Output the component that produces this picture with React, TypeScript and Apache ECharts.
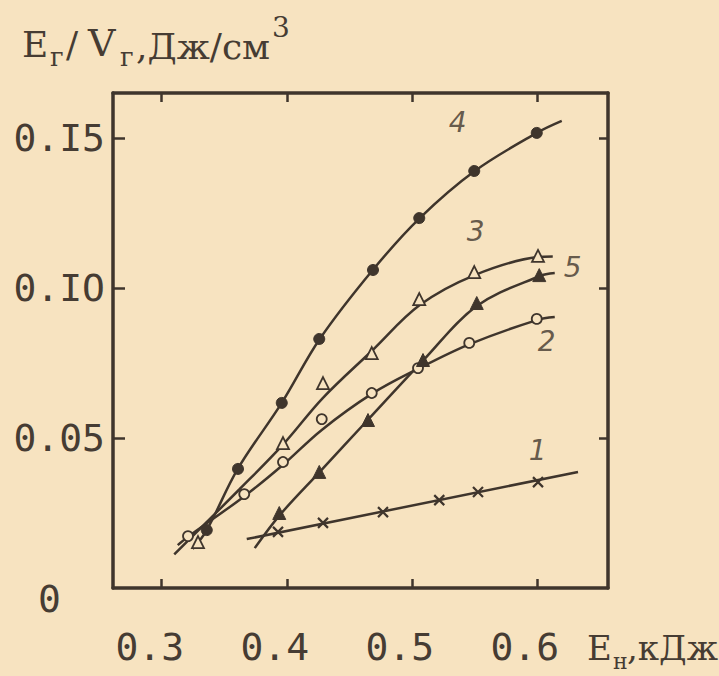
import React, { useEffect, useRef } from 'react';
import * as echarts from 'echarts';

// ---- axis ticks / labels ----
const xTickValues = [0.3, 0.4, 0.5, 0.6];
const xTickLabels = ['0.3', '0.4', '0.5', '0.6'];
const yTickValues = [0, 0.05, 0.1, 0.15];
const yTickLabels = ['0', '0.05', '0.IO', '0.I5'];

// ---- curve 1 (crosses) ----
const curve1Points = [[0.393, 0.0187], [0.429, 0.0217], [0.477, 0.0253], [0.522, 0.0293], [0.553, 0.032], [0.601, 0.0353]];
const curve1Fit = [[0.368, 0.0163], [0.633, 0.0387]];

// ---- curve 2 (open circles) ----
const curve2Points = [[0.321, 0.0173], [0.366, 0.0313], [0.397, 0.042], [0.428, 0.0563], [0.468, 0.065], [0.505, 0.0733], [0.546, 0.0817], [0.600, 0.0897]];
const curve2Fit = [[0.3128, 0.0143], [0.3208, 0.017], [0.3664, 0.0307], [0.3968, 0.041], [0.428, 0.0527], [0.468, 0.0647], [0.5048, 0.073], [0.5464, 0.0813], [0.600, 0.0893], [0.6144, 0.0903]];

// ---- curve 3 (open triangles) ----
const curve3Points = [[0.329, 0.0153], [0.397, 0.0483], [0.429, 0.0683], [0.468, 0.0783], [0.506, 0.0963], [0.550, 0.1053], [0.601, 0.1107]];
const curve3Fit = [[0.310, 0.0112], [0.3624, 0.033], [0.3968, 0.0477], [0.4288, 0.0633], [0.468, 0.079], [0.5064, 0.0943], [0.5504, 0.1043], [0.6008, 0.1103], [0.6128, 0.1105]];

// ---- curve 4 (filled circles) ----
const curve4Points = [[0.336, 0.0193], [0.361, 0.0397], [0.396, 0.0617], [0.426, 0.083], [0.469, 0.106], [0.506, 0.1233], [0.550, 0.139], [0.600, 0.1517]];
const curve4Fit = [[0.3248, 0.013], [0.336, 0.0193], [0.3608, 0.0397], [0.396, 0.0617], [0.4264, 0.083], [0.4688, 0.106], [0.5064, 0.1233], [0.5504, 0.139], [0.600, 0.1517], [0.62, 0.1557]];

// ---- curve 5 (filled triangles) ----
const curve5Points = [[0.394, 0.025], [0.426, 0.0387], [0.465, 0.056], [0.509, 0.076], [0.552, 0.095], [0.602, 0.1043]];
const curve5Fit = [[0.3744, 0.0133], [0.3944, 0.0243], [0.4264, 0.0387], [0.4648, 0.056], [0.5088, 0.0757], [0.552, 0.094], [0.6024, 0.104], [0.6144, 0.105]];

// ---- curve number labels (data coords) ----
const curveLabelNames = ['4', '3', '5', '2', '1'];
const curveLabelPositions = [[0.5368, 0.1553], [0.5512, 0.119], [0.6288, 0.1067], [0.608, 0.0823], [0.6008, 0.046]];

const PAPER = '#f7e3c0';
const INK = '#3f352c';
const TEXT = '#463c33';
const MONO = '"DejaVu Sans Mono", monospace';
const SERIF = '"DejaVu Serif", serif';

function lookup(values: number[], labels: string[], v: number) {
  for (let i = 0; i < values.length; i++) if (Math.abs(values[i] - v) < 1e-6) return labels[i];
  return '';
}

export default function App() {
  const ref = useRef<HTMLDivElement>(null);
  useEffect(() => {
    if (!ref.current) return;
    const chart = echarts.init(ref.current, undefined, { renderer: 'svg' });
    const lineS = (data: number[][]) => ({
      type: 'line', data, smooth: 0.35, showSymbol: false, symbol: 'none',
      lineStyle: { color: INK, width: 2.5 }, z: 2, silent: true,
    });
    const scat = (data: number[][], symbol: string, size: number, fill: string, bw: number) => ({
      type: 'scatter', data, symbol, symbolSize: size,
      itemStyle: { color: fill, borderColor: INK, borderWidth: bw, opacity: 1 }, z: 3, silent: true,
    });
    const frameAxis = {
      type: 'value', min: 0.261, max: 0.657,
      axisLine: { show: true, onZero: false, lineStyle: { color: INK, width: 3.5 } },
      splitLine: { show: false },
    };
    const txt = (x: number, y: number, text: string, size: number) => ({
      type: 'text', x, y, style: { text, font: size + 'px ' + SERIF, fill: TEXT, verticalAlign: 'middle' },
    });
    chart.setOption({
      animation: false,
      backgroundColor: PAPER,
      grid: { left: 113, top: 93, width: 495, height: 495, containLabel: false },
      xAxis: [
        {
          ...frameAxis, position: 'bottom',
          axisTick: { show: true, inside: true, length: 9, customValues: xTickValues, lineStyle: { color: INK, width: 2.5 } },
          axisLabel: {
            show: true, customValues: xTickValues, margin: 40,
            formatter: (v: number) => lookup(xTickValues, xTickLabels, v),
            color: TEXT, fontFamily: MONO, fontSize: 38, padding: [0, 24, 0, 0],
          },
        },
        {
          ...frameAxis, position: 'top',
          axisTick: { show: true, inside: true, length: 9, customValues: xTickValues, lineStyle: { color: INK, width: 2.5 } },
          axisLabel: { show: false },
        },
      ],
      yAxis: [
        {
          type: 'value', min: 0, max: 0.165, position: 'left',
          axisLine: { show: true, onZero: false, lineStyle: { color: INK, width: 3.5 } },
          splitLine: { show: false },
          axisTick: { show: true, inside: true, length: 12, customValues: [0.05, 0.1, 0.15], lineStyle: { color: INK, width: 2.5 } },
          axisLabel: {
            show: true, customValues: yTickValues, margin: 8,
            formatter: (v: number) => {
              const t = lookup(yTickValues, yTickLabels, v);
              return v === 0 ? '{z|' + t + '}' : t;
            },
            color: TEXT, fontFamily: MONO, fontSize: 38,
            rich: { z: { color: TEXT, fontFamily: MONO, fontSize: 38, padding: [22, 44, 0, 0] } },
          },
        },
        {
          type: 'value', min: 0, max: 0.165, position: 'right',
          axisLine: { show: true, onZero: false, lineStyle: { color: INK, width: 3.5 } },
          splitLine: { show: false },
          axisTick: { show: true, inside: true, length: 9, customValues: [0.05, 0.1, 0.15], lineStyle: { color: INK, width: 2.5 } },
          axisLabel: { show: false },
        },
      ],
      series: [
        lineS(curve1Fit), lineS(curve2Fit), lineS(curve3Fit), lineS(curve4Fit), lineS(curve5Fit),
        scat(curve1Points, 'path://M0,0L10,10M10,0L0,10', 10, 'rgba(0,0,0,0)', 2.2),
        scat(curve2Points, 'circle', 10, PAPER, 1.8),
        scat(curve3Points, 'triangle', 12, PAPER, 1.8),
        scat(curve4Points, 'circle', 11, INK, 1),
        scat(curve5Points, 'triangle', 13, INK, 1),
        {
          type: 'scatter', symbolSize: 0, silent: true, z: 4,
          data: curveLabelPositions.map((p, i) => ({ value: p, name: curveLabelNames[i] })),
          label: {
            show: true, position: 'inside', formatter: (p: any) => p.name,
            color: INK, fontFamily: '"DejaVu Sans", sans-serif', fontStyle: 'italic', fontSize: 28,
          },
        },
      ],
      graphic: [
        txt(22, 44, 'E', 36),
        txt(50, 57, 'г', 26),
        txt(66, 44, '/', 36),
        txt(88, 43, 'V', 38),
        txt(120, 57, 'г', 26),
        txt(136, 46, ',Дж/см', 36),
        txt(272, 27, '3', 28),
        txt(587, 648, 'E', 34),
        txt(613, 661, 'н', 22),
        txt(627, 648, ',кДж', 34),
      ],
    });
    return () => chart.dispose();
  }, []);
  return <div ref={ref} style={{ position: 'fixed', left: 0, top: 0, width: 719, height: 676 }} />;
}
